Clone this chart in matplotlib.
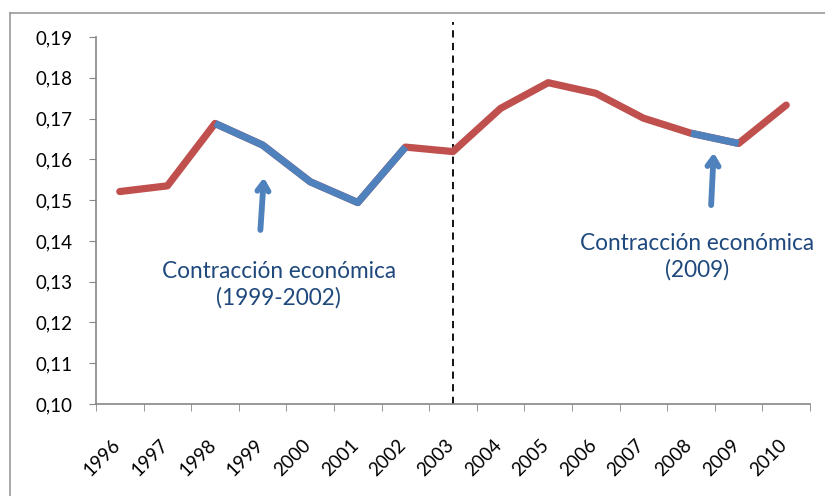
import matplotlib
matplotlib.use("Agg")
import matplotlib.pyplot as plt
from matplotlib.lines import Line2D
import matplotlib.transforms as mtransforms

years = ["1996", "1997", "1998", "1999", "2000", "2001", "2002", "2003",
         "2004", "2005", "2006", "2007", "2008", "2009", "2010"]
values = [0.1521, 0.1535, 0.1688, 0.1635, 0.1545, 0.1494, 0.1630, 0.1619,
          0.1725, 0.1788, 0.1762, 0.1701, 0.1664, 0.1639, 0.1733]
# contraction periods (index ranges of blue segments)
contraction_segments = [(2, 6), (12, 13)]
yticks = [0.10, 0.11, 0.12, 0.13, 0.14, 0.15, 0.16, 0.17, 0.18, 0.19]
divider_year = "2003"
ann1_text = "Contracción económica\n(1999-2002)"
ann2_text = "Contracción económica\n(2009)"

RED = "#C0504D"
BLUE = "#4F81BD"
TXT = "#1F497D"
GRAY = "#868686"

plt.rcParams['font.family'] = ['Lato', 'DejaVu Sans']

fig = plt.figure(figsize=(8.25, 4.96), dpi=100)
ax = fig.add_axes([96/825, 1-404/496, (810-96)/825, (404-37)/496])

x = list(range(len(years)))
ax.plot(x, values, color=RED, lw=5.2, solid_capstyle='round', solid_joinstyle='round', zorder=3)
for a, b in contraction_segments:
    ax.plot(x[a:b+1], values[a:b+1], color=BLUE, lw=5.2, solid_capstyle='butt',
            solid_joinstyle='round', zorder=4)

ax.set_xlim(-0.5, len(years) - 0.5)
ax.set_ylim(yticks[0], yticks[-1])
ax.set_yticks(yticks)
ax.set_yticklabels([f"{v:.2f}".replace('.', ',') for v in yticks])
ax.set_xticks(x)
ax.set_xticklabels(years, rotation=45, ha='right', rotation_mode='default')
ax.set_xticks([i - 0.5 for i in range(len(years) + 1)], minor=True)
ax.tick_params(axis='x', which='major', length=0, pad=23, labelsize=13.5)
ax.tick_params(axis='x', which='minor', length=5, color=GRAY, direction='out')
ax.tick_params(axis='y', length=5, color=GRAY, pad=12, labelsize=13.5)
for lbl in ax.get_xticklabels():
    lbl.set_transform(lbl.get_transform() + mtransforms.ScaledTranslation(4/100, 0, fig.dpi_scale_trans))

for s in ['top', 'right']:
    ax.spines[s].set_visible(False)
for s in ['left', 'bottom']:
    ax.spines[s].set_color(GRAY)
    ax.spines[s].set_linewidth(1.2)

# dashed divider
di = years.index(divider_year)
trans = mtransforms.blended_transform_factory(ax.transData, ax.transAxes)
ax.plot([di, di], [0, 1.04], transform=trans, color='black', lw=1.3,
        ls=(0, (4, 3)), clip_on=False, zorder=2)

# arrows
arrow_kw = dict(arrowstyle='->,head_length=0.6,head_width=0.4', color=BLUE, lw=4.2,
                capstyle='round', joinstyle='round')
ax.annotate("", xy=(3.03, 0.1562), xytext=(2.95, 0.1420), arrowprops=arrow_kw, zorder=5)
ax.annotate("", xy=(12.48, 0.1623), xytext=(12.42, 0.1481), arrowprops=arrow_kw, zorder=5)

ax.text(3.34, 0.1292, ann1_text, ha='center', va='center', multialignment='center',
        color=TXT, fontsize=16.3, linespacing=1.3)
ax.text(12.12, 0.1361, ann2_text, ha='center', va='center', multialignment='center',
        color=TXT, fontsize=16.3, linespacing=1.3)

# outer chart border (top and left visible)
fig.add_artist(Line2D([10/825, 10/825], [0, 1-13/496], color='#9a9a9a', lw=1.2,
                      transform=fig.transFigure))
fig.add_artist(Line2D([10/825, 1], [1-13/496, 1-13/496], color='#9a9a9a', lw=1.2,
                      transform=fig.transFigure))

fig.savefig("out.png", dpi=100, facecolor='white')
